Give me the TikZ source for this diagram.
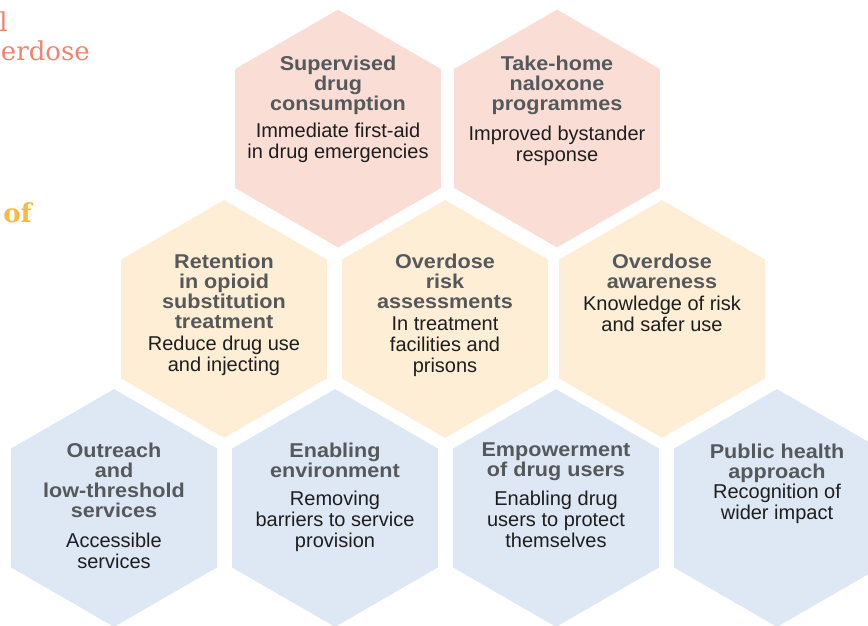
\documentclass[tikz,border=0pt]{standalone}
\usepackage{fontspec}
\setmainfont{Liberation Sans}
\newfontfamily\titlefont[FakeStretch=1.08]{Liberation Sans}
\newfontfamily\slabfont{DejaVu Serif}
\definecolor{hexpink}{HTML}{FADED6}
\definecolor{hexyellow}{HTML}{FDEED5}
\definecolor{hexblue}{HTML}{DEE7F4}
\definecolor{titlegray}{HTML}{56595C}
\definecolor{bodyblack}{HTML}{1E1E1E}
\definecolor{salmon}{HTML}{F2836B}
\definecolor{amber}{HTML}{F8BA45}
\tikzset{
  hextitle/.style={font=\titlefont\bfseries\fontsize{20}{20}\selectfont, text=titlegray, align=center, inner sep=0pt, anchor=north},
  hexbody/.style={font=\fontsize{20}{21}\selectfont, text=bodyblack, align=center, inner sep=0pt, anchor=north},
  sidetext/.style={font=\slabfont\fontsize{26}{29}\selectfont, inner sep=0pt, anchor=base east}
}
% name, cx, cy, fill, title baseline, body baseline, title, body
\newcommand\HexCell[8]{%
  \fill[#4] (#2,#3) +(90:118.9) -- +(150:118.9) -- +(210:118.9) -- +(270:118.9) -- +(330:118.9) -- +(30:118.9) -- cycle;
  \node[hextitle] (#1t) at (#2,{#5-14.5}) {#7};
  \node[hexbody] (#1b) at (#2,{#6-14.5}) {#8};
}
\begin{document}
\begin{tikzpicture}[x=1pt,y=-1pt]
\useasboundingbox (0,0) rectangle (868,626);
\clip (0,0) rectangle (868,626);
% side texts (cropped in the reference)
\node[sidetext, text=salmon] (sl) at (8,32) {l};
\node[sidetext, text=salmon] (se) at (90,61) {erdose};
\node[sidetext, text=amber, font=\slabfont\bfseries\fontsize{26}{29}\selectfont] (so) at (32,222) {of};
% row 1
\HexCell{h1}{338}{128.5}{hexpink}{70}{137}{Supervised\\drug\\consumption}{Immediate first-aid\\in drug emergencies}
\HexCell{h2}{557}{128.5}{hexpink}{70}{140}{Take-home\\naloxone\\programmes}{Improved bystander\\response}
% row 2
\HexCell{h3}{224}{319}{hexyellow}{268}{350}{Retention\\in opioid\\substitution\\treatment}{Reduce drug use\\and injecting}
\HexCell{h4}{445}{319}{hexyellow}{268}{331}{Overdose\\risk\\assessments}{In treatment\\facilities and\\prisons}
\HexCell{h5}{662}{319}{hexyellow}{268}{310}{Overdose\\awareness}{Knowledge of risk\\and safer use}
% row 3
\HexCell{h6}{114}{508}{hexblue}{457}{547}{Outreach\\and\\low-threshold\\services}{Accessible\\services}
\HexCell{h7}{335}{508}{hexblue}{457}{505}{Enabling\\environment}{Removing\\barriers to service\\provision}
\HexCell{h8}{556}{508}{hexblue}{457}{505}{Empowerment\\of drug users}{Enabling drug\\users to protect\\themselves}
\HexCell{h9}{777}{508}{hexblue}{458}{498}{Public health\\approach}{Recognition of\\wider impact}
\end{tikzpicture}
\end{document}
